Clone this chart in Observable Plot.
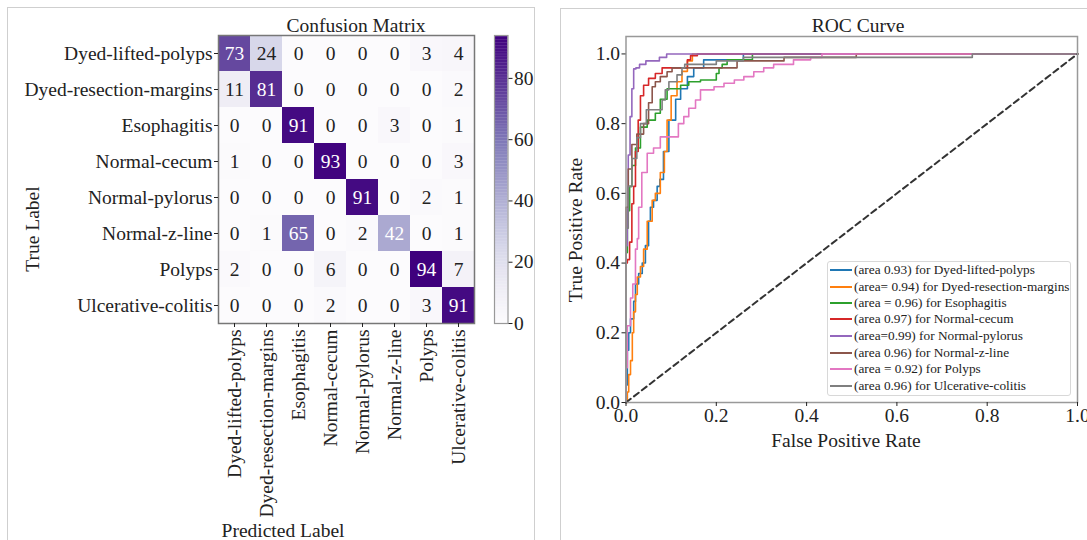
<!DOCTYPE html>
<html><head><meta charset="utf-8">
<script src="https://cdn.jsdelivr.net/npm/d3@7"></script>
<script src="https://cdn.jsdelivr.net/npm/@observablehq/plot@0.6"></script>
<style>
body{margin:0;background:#fff;font-family:"Liberation Serif","Times New Roman",serif;}
#root{position:relative;width:1087px;height:540px;overflow:hidden;background:#fff;}
.abs{position:absolute;left:0;top:0;}
.panel{position:absolute;border:1.5px solid #cfcfcf;box-sizing:border-box;}
.t{position:absolute;color:#222;white-space:nowrap;font-size:19.5px;line-height:1;transform:translate(-50%,-50%);}
.rot{transform:translate(-50%,-50%) rotate(-90deg);}
#legend{position:absolute;left:827px;top:261px;width:244px;height:135px;border:1px solid #d8d8d8;border-radius:3px;background:rgba(255,255,255,0.85);box-sizing:border-box;}
.lrow{position:absolute;left:2px;height:16px;display:flex;align-items:center;font-size:13.3px;color:#222;white-space:nowrap;}
.sw{width:22px;height:2px;margin-right:2px;}
</style></head><body><div id="root"></div>
<script>
// ---------- data ----------
const classes = ["Dyed-lifted-polyps","Dyed-resection-margins","Esophagitis","Normal-cecum","Normal-pylorus","Normal-z-line","Polyps","Ulcerative-colitis"];
const matrixRows = [
  [73,24,0,0,0,0,3,4],
  [11,81,0,0,0,0,0,2],
  [0,0,91,0,0,3,0,1],
  [1,0,0,93,0,0,0,3],
  [0,0,0,0,91,0,2,1],
  [0,1,65,0,2,42,0,1],
  [2,0,0,6,0,0,94,7],
  [0,0,0,2,0,0,3,91]
];
const colorMax = 94;
const colorbarTicks = [0,20,40,60,80];
const rocTicks = [0,0.2,0.4,0.6,0.8,1.0];
const rocColors = ["#1f77b4","#ff7f0e","#2ca02c","#d62728","#9467bd","#8c564b","#e377c2","#7f7f7f"];
const rocLabels = [
  "(area 0.93) for Dyed-lifted-polyps",
  "(area= 0.94) for Dyed-resection-margins",
  "(area = 0.96) for Esophagitis",
  "(area 0.97) for Normal-cecum",
  "(area=0.99) for Normal-pylorus",
  "(area 0.96) for Normal-z-line",
  "(area = 0.92) for Polyps",
  "(area 0.96) for Ulcerative-colitis"
];
const rocDyedLifted = [[0,0],[0.003,0.05],[0.006,0.15],[0.01,0.2],[0.017,0.24],[0.021,0.29],[0.028,0.34],[0.036,0.37],[0.043,0.4],[0.05,0.45],[0.054,0.52],[0.061,0.56],[0.069,0.58],[0.075,0.62],[0.083,0.64],[0.095,0.72],[0.11,0.81],[0.121,0.87],[0.136,0.9],[0.15,0.935],[0.172,0.96],[0.195,0.983],[0.26,0.983],[0.27,1],[1,1]];
const rocDyedResection = [[0,0],[0.003,0],[0.006,0.03],[0.01,0.08],[0.014,0.12],[0.017,0.2],[0.021,0.26],[0.025,0.31],[0.032,0.36],[0.039,0.39],[0.047,0.44],[0.058,0.52],[0.065,0.58],[0.076,0.6],[0.085,0.66],[0.091,0.72],[0.1,0.81],[0.113,0.88],[0.124,0.92],[0.136,0.95],[0.147,0.98],[0.154,1],[1,1]];
const rocEsophagitis = [[0,0],[0.003,0.43],[0.008,0.55],[0.013,0.62],[0.021,0.68],[0.032,0.73],[0.047,0.79],[0.065,0.81],[0.076,0.83],[0.091,0.87],[0.121,0.9],[0.139,0.91],[0.165,0.92],[0.2,0.925],[0.206,0.944],[0.213,0.96],[0.224,0.97],[0.243,0.983],[0.28,0.983],[0.29,1],[1,1]];
const rocNormalCecum = [[0,0],[0.003,0.4],[0.008,0.41],[0.013,0.46],[0.017,0.57],[0.021,0.62],[0.027,0.72],[0.032,0.81],[0.039,0.88],[0.05,0.91],[0.065,0.93],[0.08,0.944],[0.095,0.96],[0.136,0.96],[0.143,0.983],[0.158,0.995],[0.165,1],[1,1]];
const rocNormalPylorus = [[0,0],[0,0.22],[0.003,0.45],[0.005,0.56],[0.009,0.71],[0.013,0.82],[0.017,0.9],[0.022,0.957],[0.03,0.96],[0.044,0.97],[0.074,0.98],[0.09,0.99],[0.116,1],[1,1]];
const rocNormalZline = [[0,0],[0,0.3],[0.005,0.56],[0.013,0.67],[0.024,0.74],[0.039,0.77],[0.05,0.8],[0.058,0.86],[0.065,0.906],[0.076,0.92],[0.091,0.935],[0.102,0.949],[0.121,0.96],[0.246,0.96],[0.25,0.98],[0.35,0.98],[0.355,0.99],[0.51,0.99],[0.515,1],[1,1]];
const rocPolyps = [[0,0],[0.003,0.1],[0.01,0.22],[0.015,0.3],[0.021,0.34],[0.025,0.44],[0.028,0.47],[0.035,0.56],[0.047,0.66],[0.061,0.715],[0.076,0.73],[0.095,0.762],[0.116,0.762],[0.128,0.8],[0.139,0.82],[0.154,0.844],[0.165,0.868],[0.195,0.897],[0.217,0.906],[0.24,0.916],[0.261,0.925],[0.283,0.935],[0.305,0.949],[0.327,0.96],[0.371,0.97],[0.409,0.983],[0.434,0.99],[0.46,1],[1,1]];
const rocUlcerative = [[0,0],[0,0.2],[0.005,0.5],[0.013,0.62],[0.024,0.7],[0.032,0.76],[0.045,0.8],[0.054,0.84],[0.08,0.84],[0.087,0.868],[0.095,0.897],[0.113,0.92],[0.124,0.94],[0.13,0.96],[0.2,0.97],[0.26,0.98],[0.3,0.99],[0.767,0.99],[0.77,1],[1,1]];
const rocCurves = [rocDyedLifted,rocDyedResection,rocEsophagitis,rocNormalCecum,rocNormalPylorus,rocNormalZline,rocPolyps,rocUlcerative];
const chanceLine = [[0,0],[1,1]];

// ---------- layout ----------
const root = document.getElementById("root");
const FONT = '"Liberation Serif","Times New Roman",serif';
function addPanel(l,t,w,h){const d=document.createElement("div");d.className="panel";Object.assign(d.style,{left:l+"px",top:t+"px",width:w+"px",height:h+"px"});root.appendChild(d);}
function addText(txt,x,y,rot){const d=document.createElement("div");d.className="t"+(rot?" rot":"");d.textContent=txt;d.style.left=x+"px";d.style.top=y+"px";root.appendChild(d);}
function place(el,l,t){el.classList.add("abs");el.style.left=l+"px";el.style.top=t+"px";root.appendChild(el);}

addPanel(7,7,528,560);
addPanel(560,8,560,560);

// ---------- confusion matrix ----------
const cells = matrixRows.flatMap((row,i)=>row.map((v,j)=>({t:classes[i],p:classes[j],v})));
const cm = Plot.plot({
  width:480,height:540,marginLeft:218,marginTop:35,marginRight:6,marginBottom:217,
  style:{fontFamily:FONT,fontSize:"19.5px",color:"#222",background:"transparent",overflow:"visible"},
  x:{domain:classes,padding:0},
  y:{domain:classes,padding:0},
  color:{type:"linear",domain:[0,colorMax],scheme:"purples"},
  marks:[
    Plot.cell(cells,{x:"p",y:"t",fill:"v"}),
    Plot.text(cells.filter(d=>d.v>40),{x:"p",y:"t",text:"v",fill:"white",fontSize:19.5}),
    Plot.text(cells.filter(d=>d.v<=40),{x:"p",y:"t",text:"v",fill:"#222",fontSize:19.5}),
    Plot.frame({stroke:"#777",strokeWidth:1.5}),
    Plot.axisX({tickRotate:-90,tickSize:4,tickPadding:2,label:null}),
    Plot.axisY({tickSize:4,tickPadding:2,label:null})
  ]
});
place(cm,0,0);

// ---------- colorbar ----------
const stripes = d3.range(0,colorMax,0.5);
const cb = Plot.plot({
  width:60,height:540,marginLeft:0,marginRight:46.5,marginTop:35,marginBottom:217,
  style:{fontFamily:FONT,fontSize:"19.5px",color:"#222",background:"transparent",overflow:"visible"},
  y:{domain:[0,colorMax]},
  color:{type:"linear",domain:[0,colorMax],scheme:"purples"},
  marks:[
    Plot.barY(stripes,{y1:d=>d,y2:d=>Math.min(d+0.6,colorMax),fill:d=>d+0.25}),
    Plot.frame({stroke:"#999",strokeWidth:1.2}),
    Plot.axisY({anchor:"right",ticks:colorbarTicks,tickSize:4,tickPadding:2,label:null})
  ]
});
place(cb,494,0);

addText("Confusion Matrix",356,26);
addText("Predicted Label",283,531);
addText("True Label",33,229,true);

// ---------- ROC ----------
const rocData = rocCurves.flatMap((c,i)=>c.map(([x,y])=>({cls:classes[i],x,y})));
const roc = Plot.plot({
  width:542,height:540,marginLeft:80.5,marginRight:10,marginTop:36,marginBottom:138,
  style:{fontFamily:FONT,fontSize:"19.5px",color:"#222",background:"transparent",overflow:"visible"},
  x:{domain:[0,1]},
  y:{domain:[0,1.05]},
  color:{domain:classes,range:rocColors},
  marks:[
    Plot.line(rocData,{x:"x",y:"y",z:"cls",stroke:"cls",strokeWidth:1.6,curve:"step-before"}),
    Plot.line(chanceLine,{x:d=>d[0],y:d=>d[1],stroke:"#333",strokeWidth:2,strokeDasharray:"6,4"}),
    Plot.frame({stroke:"#999",strokeWidth:1.5}),
    Plot.axisX({ticks:rocTicks,tickFormat:".1f",tickSize:4,tickPadding:2,label:null}),
    Plot.axisY({ticks:rocTicks,tickFormat:".1f",tickSize:4,tickPadding:2,label:null})
  ]
});
place(roc,545,0);

addText("ROC Curve",858,26);
addText("False Positive Rate",846,441);
addText("True Positive Rate",576,230,true);

// legend
const lg=document.createElement("div");lg.id="legend";root.appendChild(lg);
const rowY=[269,285.5,302,318,335,351.5,368,385];
rocLabels.forEach((lab,i)=>{
  const r=document.createElement("div");r.className="lrow";
  r.style.top=(rowY[i]-261-8)+"px";
  const s=document.createElement("div");s.className="sw";s.style.background=rocColors[i];
  const tx=document.createElement("span");tx.textContent=lab;
  r.appendChild(s);r.appendChild(tx);lg.appendChild(r);
});
</script></body></html>
